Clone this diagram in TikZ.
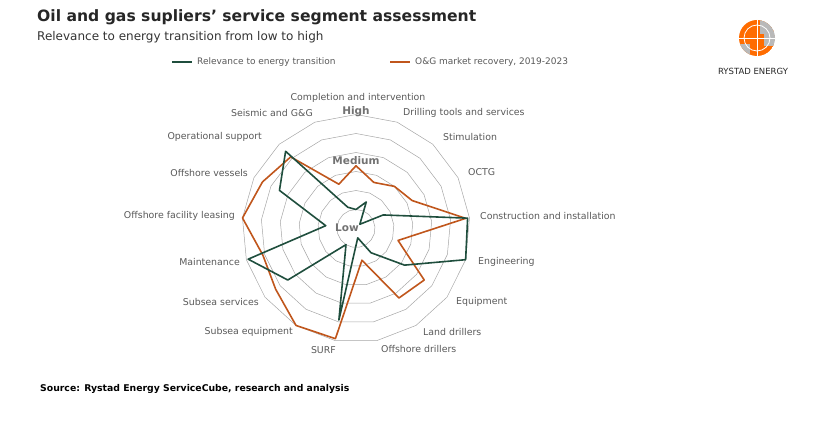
\documentclass[tikz,border=0pt]{standalone}
\usepackage{fontspec}
\setmainfont{DejaVu Sans}
\usetikzlibrary{calc}
\definecolor{grn}{HTML}{1F4E3D}
\definecolor{org}{HTML}{C0561C}
\definecolor{gtxt}{HTML}{595959}
\def\orgvals{{3.3,2.6,3.0,3.3,5.8,2.3,4.5,4.3,1.7,5.9,6.0,5.3,5.1,6.0,5.5,5.1,2.5}}
\def\grnvals{{1.0,1.5,0.3,1.6,5.9,6.0,3.2,1.5,0.5,4.9,1.0,4.5,5.9,1.6,4.5,5.5,1.2}}
\begin{document}
\begin{tikzpicture}[x=1pt,y=-1pt,
  lab/.style={font=\fontsize{9.4}{10}\selectfont,text=gtxt,inner sep=0pt},
  lvl/.style={font=\bfseries\fontsize{10.5}{11}\selectfont,text=gtxt!85,inner sep=0pt},
  ring/.style={draw=gray!70,line width=0.5pt},
  grnline/.style={draw=grn,line width=1.6pt,line join=round},
  orgline/.style={draw=org,line width=1.6pt,line join=round}]
\useasboundingbox (0,0) rectangle (830,438);
\coordinate (c) at (356,228.5);
% rings
\foreach \k in {1,...,6}{
  \draw[ring] ($(c)+(0,{-\k*19})$) \foreach \i in {1,...,16}{ -- ($(c)+({\k*19*sin(\i*360/17)},{-\k*19*cos(\i*360/17)})$)} -- cycle;
}
% data points
\foreach \i in {0,...,16}{
  \pgfmathsetmacro{\ro}{\orgvals[\i]*19}
  \pgfmathsetmacro{\rg}{\grnvals[\i]*19}
  \coordinate (o\i) at ($(c)+({\ro*sin(\i*360/17)},{-\ro*cos(\i*360/17)})$);
  \coordinate (g\i) at ($(c)+({\rg*sin(\i*360/17)},{-\rg*cos(\i*360/17)})$);
}
\draw[orgline] (o0) \foreach \i in {1,...,16}{ -- (o\i)} -- cycle;
\draw[grnline] (g0) \foreach \i in {1,...,16}{ -- (g\i)} -- cycle;
% level labels
\node[lvl] (lh) at (356,112) {High};
\node[lvl] (lm) at (356,161) {Medium};
\node[lvl] (ll) at (347,228) {Low};
% axis labels
\node[lab] (a0) at (358,98) {Completion and intervention};
\node[lab,anchor=west] (a1) at (403,113) {Drilling tools and services};
\node[lab,anchor=west] (a2) at (443,137) {Stimulation};
\node[lab,anchor=west] (a3) at (468,172) {OCTG};
\node[lab,anchor=west] (a4) at (480,216) {Construction and installation};
\node[lab,anchor=west] (a5) at (478,262) {Engineering};
\node[lab,anchor=west] (a6) at (456,302) {Equipment};
\node[lab,anchor=west] (a7) at (423,332) {Land drillers};
\node[lab,anchor=west] (a8) at (381,349) {Offshore drillers};
\node[lab,anchor=east] (a9) at (336,350) {SURF};
\node[lab,anchor=east] (a10) at (293,332) {Subsea equipment};
\node[lab,anchor=east] (a11) at (259,302) {Subsea services};
\node[lab,anchor=east] (a12) at (240,262) {Maintenance};
\node[lab,anchor=east] (a13) at (235,216) {Offshore facility leasing};
\node[lab,anchor=east] (a14) at (248,173) {Offshore vessels};
\node[lab,anchor=east] (a15) at (262,137) {Operational support};
\node[lab,anchor=east] (a16) at (313,113) {Seismic and G\&G};
% title
\node[anchor=west,inner sep=0pt,font=\bfseries\fontsize{15.6}{17}\selectfont,text=black!85] (t) at (37,17) {Oil and gas supliers’ service segment assessment};
\node[anchor=west,inner sep=0pt,font=\fontsize{12}{14}\selectfont,text=black!80] (st) at (37,37) {Relevance to energy transition from low to high};
% legend
\coordinate (lg1) at (172,62); \coordinate (lg2) at (192,62);
\draw[grnline] (lg1) -- (lg2);
\node[lab,anchor=west,font=\fontsize{9}{10}\selectfont] (lgt1) at (197,62) {Relevance to energy transition};
\coordinate (lo1) at (390,62); \coordinate (lo2) at (410,62);
\draw[orgline] (lo1) -- (lo2);
\node[lab,anchor=west,font=\fontsize{9}{10}\selectfont] (lgt2) at (415,62) {O\&G market recovery, 2019-2023};
% source
\node[anchor=west,inner sep=0pt,font=\bfseries\fontsize{9.3}{10}\selectfont] (src) at (40,389) {Source: Rystad Energy ServiceCube, research and analysis};
% logo
\begin{scope}
\clip (757,38) circle (18);
\fill[orange!85!red] (757,38) circle (18);
\fill[gray!55] (760,18) rectangle (780,34);
\fill[gray!55] (764,34) rectangle (780,46);
\fill[gray!55] (738,44) rectangle (750,60);
\end{scope}
\draw[white,line width=0.8pt] (757,38) circle (13);
\draw[white,line width=0.6pt] (757,20) -- (757,56) (739,38) -- (775,38);
\node[inner sep=0pt,font=\fontsize{8.5}{9}\selectfont,text=black!85] (logo) at (753,71) {RYSTAD ENERGY};
\end{tikzpicture}
\end{document}
